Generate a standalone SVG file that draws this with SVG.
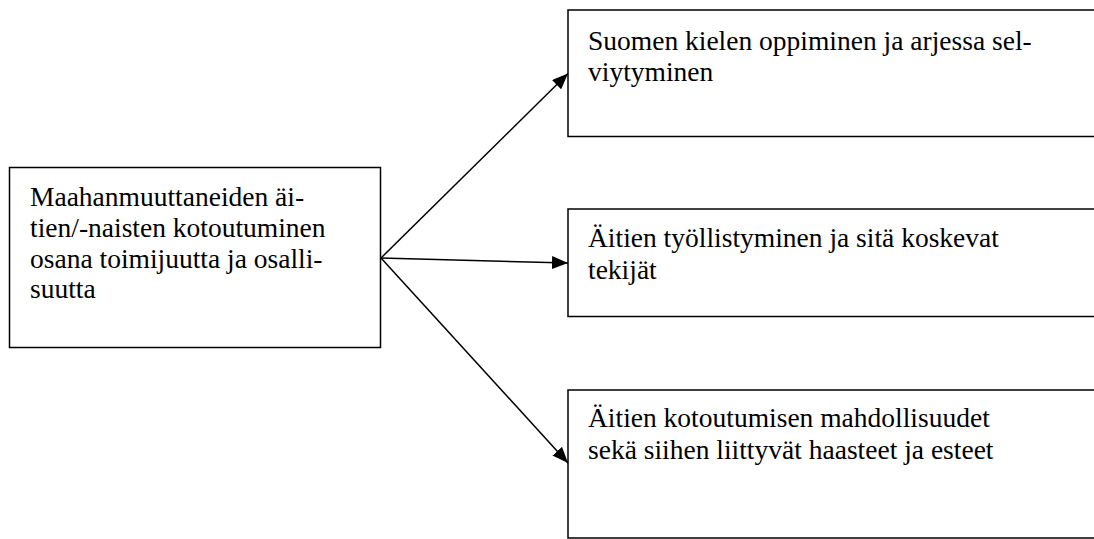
<svg xmlns="http://www.w3.org/2000/svg" width="1094" height="539" viewBox="0 0 1094 539">
  <style>
    .box { fill: #ffffff; stroke: #000000; stroke-width: 1.5; }
    .lbl { font-family: 'Liberation Serif', 'Times New Roman', Times, serif; font-size: 27.5px; fill: #000000; }
    .conn { stroke: #000000; stroke-width: 1.5; fill: none; }
  </style>
  <defs>
    <marker id="arrow" viewBox="0 0 16 13" refX="16" refY="6.5" markerWidth="16" markerHeight="13" markerUnits="userSpaceOnUse" orient="auto">
      <path d="M0,0 L16,6.5 L0,13 z" fill="#000000"/>
    </marker>
  </defs>
  <rect width="1094" height="539" fill="#ffffff"/>
  <g id="node-source">
    <rect class="box" x="9.5" y="167.5" width="371" height="180"/>
    <text class="lbl" x="30" y="206">Maahanmuuttaneiden äi-</text>
    <text class="lbl" x="30" y="237">tien/-naisten kotoutuminen</text>
    <text class="lbl" x="30" y="268">osana toimijuutta ja osalli-</text>
    <text class="lbl" x="30" y="298">suutta</text>
  </g>
  <g id="node-language">
    <rect class="box" x="568" y="10" width="540" height="126.5"/>
    <text class="lbl" x="588" y="50">Suomen kielen oppiminen ja arjessa sel-</text>
    <text class="lbl" x="588" y="81">viytyminen</text>
  </g>
  <g id="node-employment">
    <rect class="box" x="568" y="209" width="540" height="107.5"/>
    <text class="lbl" x="588" y="247">Äitien työllistyminen ja sitä koskevat</text>
    <text class="lbl" x="588" y="279">tekijät</text>
  </g>
  <g id="node-integration">
    <rect class="box" x="568" y="390" width="540" height="148"/>
    <text class="lbl" x="588" y="427">Äitien kotoutumisen mahdollisuudet</text>
    <text class="lbl" x="588" y="459">sekä siihen liittyvät haasteet ja esteet</text>
  </g>
  <g id="connectors">
    <line class="conn" x1="381" y1="258" x2="568" y2="73.5" marker-end="url(#arrow)"/>
    <line class="conn" x1="381" y1="258" x2="568" y2="263" marker-end="url(#arrow)"/>
    <line class="conn" x1="381" y1="258" x2="568" y2="463" marker-end="url(#arrow)"/>
  </g>
</svg>
